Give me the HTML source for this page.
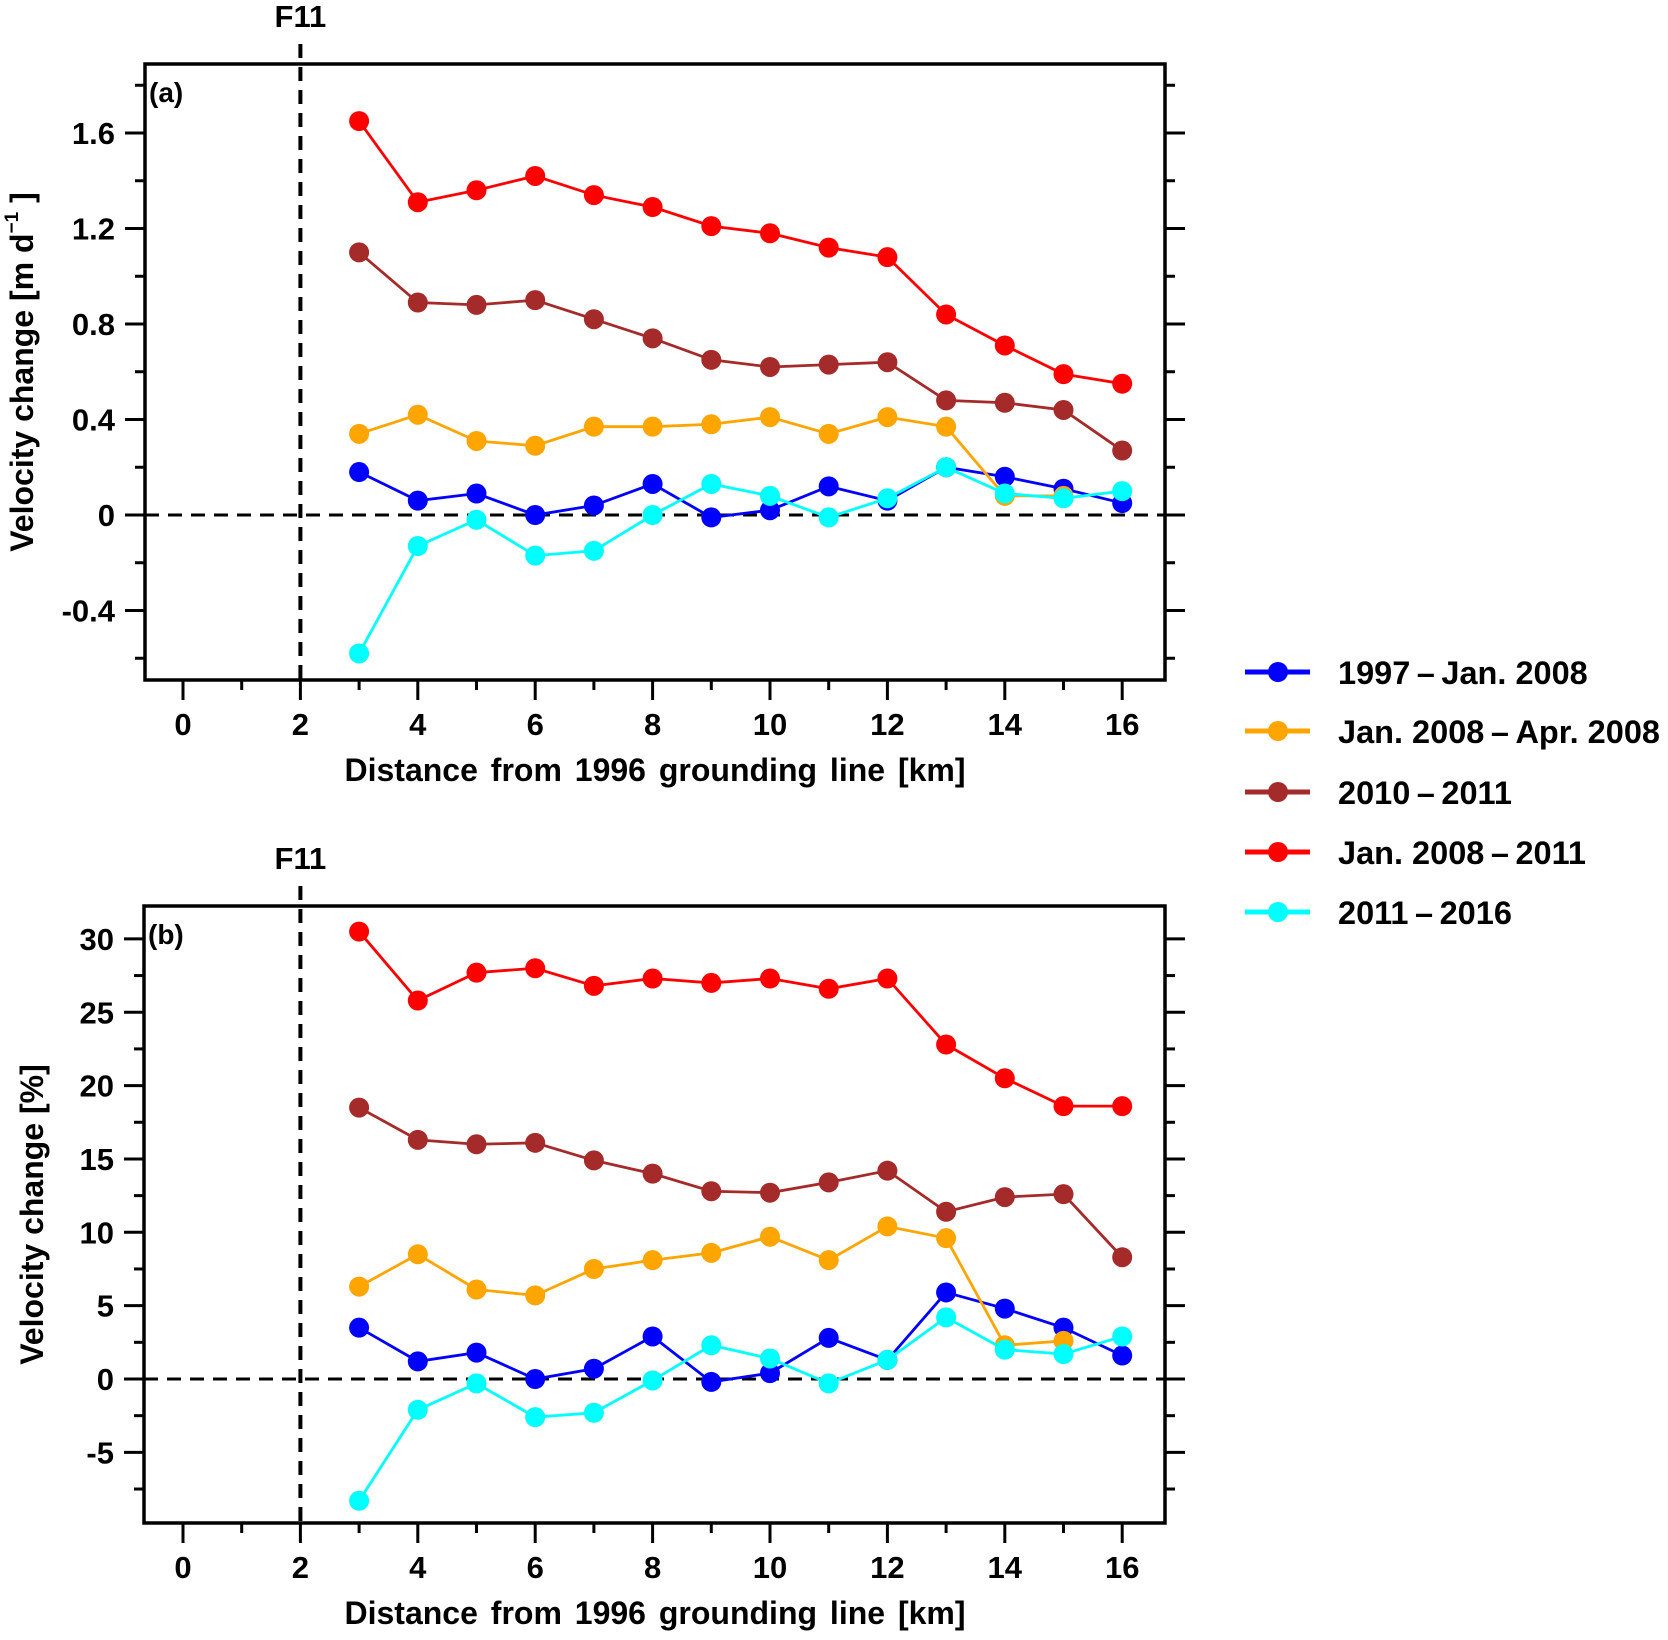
<!DOCTYPE html>
<html><head><meta charset="utf-8"><style>
html,body{margin:0;padding:0;background:#fff}
svg{display:block;font-family:"Liberation Sans",sans-serif;font-weight:bold}
</style></head><body>
<svg id="c" width="1668" height="1640" viewBox="0 0 1668 1640"></svg>
<script>
const xs=[3,4,5,6,7,8,9,10,11,12,13,14,15,16];
const xsOrange=[3,4,5,6,7,8,9,10,11,12,13,14,15];
const names=["1997\u2009\u2013\u2009Jan. 2008","Jan. 2008\u2009\u2013\u2009Apr. 2008","2010\u2009\u2013\u20092011","Jan. 2008\u2009\u2013\u20092011","2011\u2009\u2013\u20092016"];
const colors=["#0000ff","#ffa500","#a52a2a","#ff0000","#00ffff"];
const aBlue=[0.18,0.06,0.09,0.00,0.04,0.13,-0.01,0.02,0.12,0.06,0.20,0.16,0.11,0.05];
const aOrange=[0.34,0.42,0.31,0.29,0.37,0.37,0.38,0.41,0.34,0.41,0.37,0.08,0.08];
const aBrown=[1.10,0.89,0.88,0.90,0.82,0.74,0.65,0.62,0.63,0.64,0.48,0.47,0.44,0.27];
const aRed=[1.65,1.31,1.36,1.42,1.34,1.29,1.21,1.18,1.12,1.08,0.84,0.71,0.59,0.55];
const aCyan=[-0.58,-0.13,-0.02,-0.17,-0.15,0.00,0.13,0.08,-0.01,0.07,0.20,0.09,0.07,0.10];
const bBlue=[3.5,1.2,1.8,0.0,0.7,2.9,-0.2,0.4,2.8,1.3,5.9,4.8,3.5,1.6];
const bOrange=[6.3,8.5,6.1,5.7,7.5,8.1,8.6,9.7,8.1,10.4,9.6,2.3,2.6];
const bBrown=[18.5,16.3,16.0,16.1,14.9,14.0,12.8,12.7,13.4,14.2,11.4,12.4,12.6,8.3];
const bRed=[30.5,25.8,27.7,28.0,26.8,27.3,27.0,27.3,26.6,27.3,22.8,20.5,18.6,18.6];
const bCyan=[-8.3,-2.1,-0.3,-2.6,-2.3,-0.1,2.3,1.4,-0.3,1.3,4.2,2.0,1.7,2.9];
const aYTicks=[-0.4,0,0.4,0.8,1.2,1.6];
const aYTickLabels=["-0.4","0","0.4","0.8","1.2","1.6"];
const aYMinor=[-0.6,-0.2,0.2,0.6,1.0,1.4,1.8];
const bYTicks=[-5,0,5,10,15,20,25,30];
const bYTickLabels=["-5","0","5","10","15","20","25","30"];
const bYMinor=[-7.5,-2.5,2.5,7.5,12.5,17.5,22.5,27.5];
const xTicks=[0,2,4,6,8,10,12,14,16];
const xMinor=[1,3,5,7,9,11,13,15];

const svg=document.getElementById('c');
const NS="http://www.w3.org/2000/svg";
function mk(tag,attrs,parent){const e=document.createElementNS(NS,tag);for(const k in attrs)e.setAttribute(k,attrs[k]);(parent||svg).appendChild(e);return e;}
const xScale=v=>183+v*58.7;

function panel(cfg){
  const g=mk('g',{});
  
  
  const {top,bottom,left,right,y}=cfg;
  cfg.yMinor.forEach(v=>{const yy=y(v);
    const t1=mk('line',{x1:left-10,x2:left,y1:yy,y2:yy,stroke:'#000','stroke-width':3},g);
    
    const t2=mk('line',{x1:right,x2:right+10,y1:yy,y2:yy,stroke:'#000','stroke-width':3},g);
    });
  cfg.yTicks.forEach((v,i)=>{const yy=y(v);
    const t1=mk('line',{x1:left-20,x2:left,y1:yy,y2:yy,stroke:'#000','stroke-width':3},g);
    
    const t2=mk('line',{x1:right,x2:right+20,y1:yy,y2:yy,stroke:'#000','stroke-width':3},g);
    
    const tx=mk('text',{x:left-30,y:yy+11,'text-anchor':'end','font-size':31},g);
    
    tx.textContent=cfg.yLabels[i];});
  xMinor.forEach(v=>{const t=mk('line',{x1:xScale(v),x2:xScale(v),y1:bottom,y2:bottom+10,stroke:'#000','stroke-width':3},g);
    });
  xTicks.forEach(v=>{const t=mk('line',{x1:xScale(v),x2:xScale(v),y1:bottom,y2:bottom+20,stroke:'#000','stroke-width':3},g);
    
    const tx=mk('text',{x:xScale(v),y:bottom+55,'text-anchor':'middle','font-size':31},g);
    
    tx.textContent=String(v);});
  const fr=mk('rect',{x:left,y:top,width:right-left,height:bottom-top,fill:'none',stroke:'#000','stroke-width':3.5},g);
  
  const z=mk('line',{x1:left,x2:right+18,y1:y(0),y2:y(0),stroke:'#000','stroke-width':3,'stroke-dasharray':'14,9'},g);
  
  const f=mk('line',{x1:xScale(2),x2:xScale(2),y1:top-20,y2:bottom,stroke:'#000','stroke-width':4,'stroke-dasharray':'14,9'},g);
  
  const fl=mk('text',{x:xScale(2),y:top-37,'text-anchor':'middle','font-size':31},g);
  
  fl.textContent='F11';
  const pl=mk('text',{x:left+4,y:top+38,'font-size':28},g);
  
  pl.textContent=cfg.label;
  const xt=mk('text',{x:655,y:bottom+101,'text-anchor':'middle','font-size':32,'word-spacing':'4'},g);
  
  xt.textContent='Distance from 1996 grounding line [km]';
  const yt=mk('text',{x:0,y:0,'text-anchor':'middle','font-size':32,transform:`translate(${cfg.ytx},${(top+bottom)/2}) rotate(-90)`},g);
  
  if(cfg.sup){yt.textContent='Velocity change [m d';const s=mk('tspan',{'font-size':19,dy:-15},yt);s.textContent='\u22121';const s2=mk('tspan',{dy:15},yt);s2.textContent=' ]';}
  else yt.textContent='Velocity change [%]';
  cfg.series.forEach((d,si)=>{
    const X=si===1?xsOrange:xs;
    const sg=mk('g',{},g);
    
    const pts=d.map((v,i)=>xScale(X[i])+','+y(v)).join(' ');
    const p=mk('polyline',{points:pts,fill:'none',stroke:colors[si],'stroke-width':2.8},sg);
    
    d.forEach((v,i)=>{const c=mk('circle',{cx:xScale(X[i]),cy:y(v),r:10,fill:colors[si]},sg);
      });
  });
}
panel({name:'panel-a',top:64,bottom:680,left:145,right:1165,y:v=>515-v*238.75,
  yTicks:aYTicks,yLabels:aYTickLabels,yMinor:aYMinor,label:'(a)',ytx:33,sup:true,
  series:[aBlue,aOrange,aBrown,aRed,aCyan]});
panel({name:'panel-b',top:906,bottom:1523,left:144,right:1165,y:v=>1379-v*14.67,
  yTicks:bYTicks,yLabels:bYTickLabels,yMinor:bYMinor,label:'(b)',ytx:43,sup:false,
  series:[bBlue,bOrange,bBrown,bRed,bCyan]});
const lg=mk('g',{});


const rows=[672,731,792,852,912];
names.forEach((n,i)=>{
  const e=mk('g',{},lg);
  
  
  mk('line',{x1:1245,x2:1310,y1:rows[i],y2:rows[i],stroke:colors[i],'stroke-width':5},e);
  mk('circle',{cx:1278,cy:rows[i],r:10,fill:colors[i]},e);
  const t=mk('text',{x:1338,y:rows[i]+12,'font-size':32.5},e);
  t.textContent=n;
});
</script>
</body></html>
